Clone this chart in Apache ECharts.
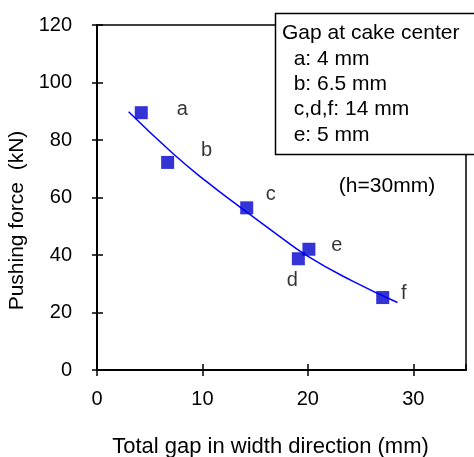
<!DOCTYPE html>
<html><head><meta charset="utf-8">
<script src="https://cdn.jsdelivr.net/npm/echarts@6/dist/echarts.min.js"></script>
<style>html,body{margin:0;padding:0;background:#fff}#c{width:474px;height:457px}</style>
</head><body><div id="c"></div>
<script>
const pointNames = ['a','b','c','d','e','f'];
const gapX = [4.2, 6.7, 14.2, 19.1, 20.1, 27.1];
const forceY = [89.5, 72.2, 56.4, 38.7, 42.0, 25.2];
const trendX = [3.0, 7.2, 10.4, 13.6, 16.8, 19.9, 24.2, 28.5];
const trendY = [89.8, 75.3, 65.5, 56.6, 47.9, 39.8, 31.0, 23.5];
const xTicks = [0, 10, 20, 30];
const yTicks = [0, 20, 40, 60, 80, 100, 120];
const legendLines = ['Gap at cake center', '  a: 4 mm', '  b: 6.5 mm', '  c,d,f: 14 mm', '  e: 5 mm'];
const noteText = '(h=30mm)';
const labelOffsets = [[41,-3],[39,-12],[24,-13],[-6,22],[28,-4],[21,-4]];

const FONT = 'Liberation Sans, Arial, sans-serif';
const chart = echarts.init(document.getElementById('c'), null, {renderer:'canvas'});
const scatterData = gapX.map((x,i)=>({
  value:[x, forceY[i]], name: pointNames[i],
  label:{show:true, position:'inside', offset: labelOffsets[i], formatter: pointNames[i], color:'#000', fontSize:20, fontFamily:FONT}
}));
const trendData = trendX.map((x,i)=>[x, trendY[i]]);
chart.setOption({
  animation:false,
  grid:{left:97, top:25, right:8, bottom:87, containLabel:false, outerBoundsMode:'none',
    show:true, borderColor:'#000', borderWidth:1.5, backgroundColor:'transparent'},
  xAxis:[{
    type:'value', min:0, max:35, interval:10,
    name:'Total gap in width direction (mm)', nameLocation:'middle', nameGap:66,
    nameTextStyle:{color:'#000', fontSize:22, fontFamily:FONT, padding:[0,22,0,0]},
    axisLine:{show:true, onZero:false, lineStyle:{color:'#000', width:2}},
    axisTick:{show:true, inside:false, length:6, lineStyle:{color:'#000', width:1.5}},
    axisLabel:{color:'#000', fontSize:20, fontFamily:FONT, margin:19, showMaxLabel:false,
      formatter:v=> xTicks.includes(v) ? String(v) : ''},
    splitLine:{show:false}
  },{
    type:'value', min:0, max:35, interval:10, position:'bottom',
    axisLine:{show:false}, axisLabel:{show:false}, splitLine:{show:false},
    axisTick:{show:true, inside:true, length:6, lineStyle:{color:'#000', width:1.5}}
  }],
  yAxis:[{
    type:'value', min:0, max:120, interval:20,
    name:'Pushing force  (kN)', nameLocation:'middle', nameGap:58, nameRotate:90,
    nameTextStyle:{color:'#000', fontSize:21, fontFamily:FONT, padding:[0,46,0,0]},
    axisLine:{show:true, onZero:false, lineStyle:{color:'#000', width:2}},
    axisTick:{show:true, inside:false, length:5, lineStyle:{color:'#000', width:1.5}},
    axisLabel:{color:'#000', fontSize:20, fontFamily:FONT, margin:25,
      formatter:v=> yTicks.includes(v) ? String(v) : ''},
    splitLine:{show:false}
  },{
    type:'value', min:0, max:120, interval:20, position:'left',
    axisLine:{show:false}, axisLabel:{show:false}, splitLine:{show:false},
    axisTick:{show:true, inside:true, length:6, lineStyle:{color:'#000', width:1.5}}
  }],
  series:[{
    type:'scatter', data:scatterData, symbol:'rect', symbolSize:13,
    itemStyle:{color:'#0000CC'}, z:2
  },{
    type:'line', data:trendData, smooth:true, showSymbol:false, symbol:'none',
    lineStyle:{color:'#0000FF', width:1.5}, z:3
  }],
  graphic:[{
    type:'rect', shape:{x:275.5, y:13.5, width:210, height:141},
    style:{fill:'#fff', stroke:'#000', lineWidth:1.5}, z:100
  },{
    type:'text', left:282, top:21, z:101,
    style:{text:legendLines.join('\n'), fill:'#000', fontSize:21, fontFamily:FONT, lineHeight:25.3}
  },{
    type:'text', x:387, y:186, z:101,
    style:{text:noteText, fill:'#000', fontSize:21, fontFamily:FONT, align:'center', verticalAlign:'middle'}
  }]
});
</script></body></html>
